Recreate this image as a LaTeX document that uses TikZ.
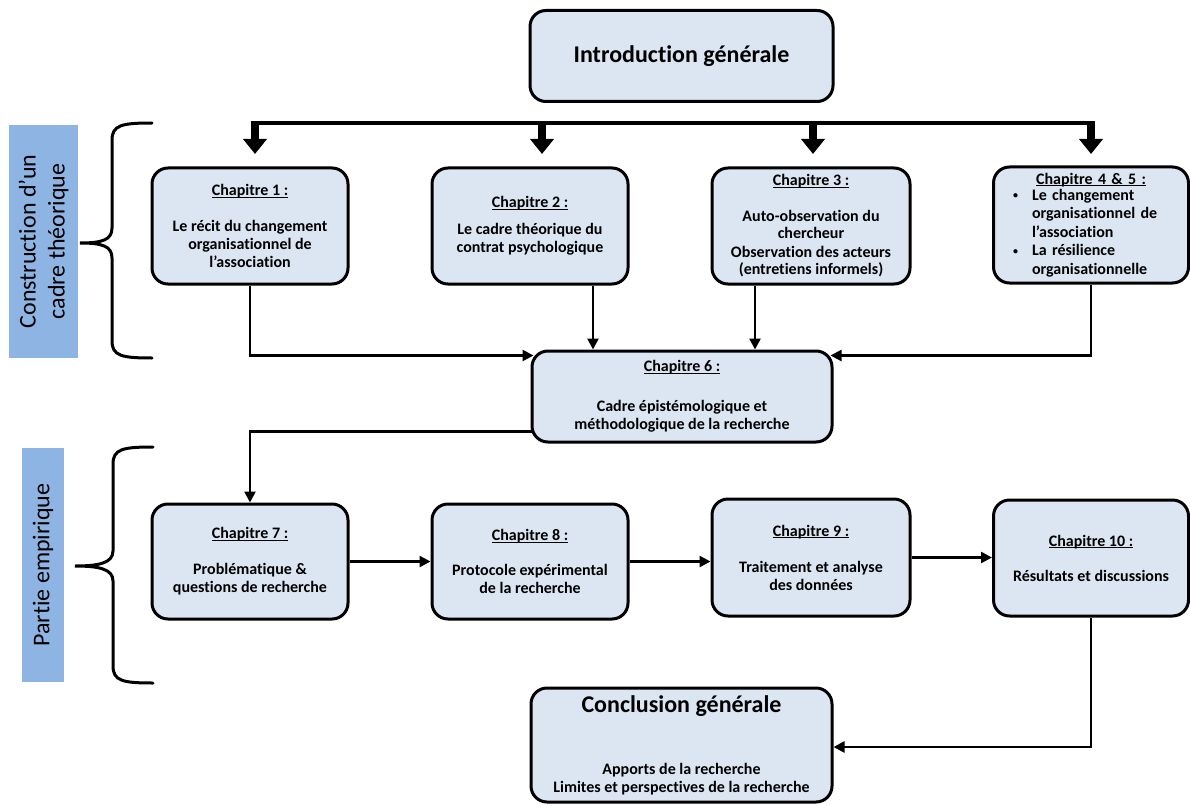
\documentclass[tikz,border=0pt]{standalone}
\usepackage{fontspec}
\setmainfont{Carlito}[Ligatures={NoCommon,NoRare}]
\usetikzlibrary{arrows.meta}
\definecolor{boxfill}{RGB}{220,230,242}
\definecolor{tagfill}{RGB}{141,180,226}
% chapter heading, underlined close to the baseline
\newcommand\chap[1]{\setbox0\hbox{#1}\rlap{\rule[-2.2pt]{\wd0}{1pt}}\box0}
\newcommand\bul{\makebox[19pt][l]{\raisebox{1.5pt}{\fontsize{10}{10}\selectfont\textbullet}}}
\begin{document}
\begin{tikzpicture}[x=1pt,y=-1pt,
  box/.style={draw=black, line width=3pt, rounded corners=16pt, fill=boxfill,
    align=center, inner sep=0pt, font=\bfseries\fontsize{16}{18}\selectfont},
  conn/.style={line width=2.5pt, -{Triangle[length=11pt,width=11pt]}},
  bigarrow/.style={line width=8pt, -{Triangle[length=15pt,width=23pt]}},
  tag/.style={fill=tagfill, rotate=90, align=center, inner sep=0pt,
    font=\fontsize{24}{29}\selectfont},
  brace/.style={line width=3pt, line cap=round}]

\path[use as bounding box, fill=white] (0,0) rectangle (1190,805);

% side labels
\node[tag, minimum width=233pt, minimum height=69pt] (tagA) at (43.5,241.5)
  {Construction d’un\\cadre théorique};
\node[tag, minimum width=234pt, minimum height=42pt] (tagB) at (43,565)
  {Partie empirique};

% braces
\draw[brace] (152,123) .. controls (122,123) and (112,125) .. (112,140)
  -- (112,228) .. controls (112,240) and (102,243) .. (80,243)
  .. controls (102,243) and (112,246) .. (112,258)
  -- (112,341) .. controls (112,356) and (122,358) .. (152,358);
\draw[brace] (153,447) .. controls (123,447) and (113,449) .. (113,464)
  -- (113,551) .. controls (113,563) and (99,566) .. (75,566)
  .. controls (99,566) and (113,569) .. (113,581)
  -- (113,666) .. controls (113,681) and (123,683) .. (153,683);

% boxes
\node[box, minimum width=303pt, minimum height=91pt] (intro) at (681.5,56)
  {\bfseries\fontsize{24}{29}\selectfont Introduction générale};

\node[box, minimum width=196pt, minimum height=116pt] (ch1) at (250,226)
  {\chap{Chapitre 1 :}\\[18pt]Le récit du changement\\organisationnel de\\l’association};
\node[box, minimum width=196pt, minimum height=116pt] (ch2) at (530,226)
  {\chap{Chapitre 2 :}\\[9pt]Le cadre théorique du\\contrat psychologique};
\node[box, minimum width=198pt, minimum height=116pt] (ch3) at (811,226)
  {\chap{Chapitre 3 :}\\[18pt]Auto-observation du\\[-1pt]chercheur\\[1pt]Observation des acteurs\\[-1pt](entretiens informels)};
\node[box, minimum width=195pt, minimum height=116pt, text width=180pt, align=left] (ch45) at (1091,225)
  {\makebox[180pt]{\chap{Chapitre 4 \& 5 :}}\\[-2pt]
   \hspace*{12pt}\bul Le changement\\[0.5pt]
   \hspace*{31pt}organisationnel de\\[0.5pt]
   \hspace*{31pt}l’association\\[0.5pt]
   \hspace*{12pt}\bul La résilience\\[0.5pt]
   \hspace*{31pt}organisationnelle};

\node[box, minimum width=300pt, minimum height=91pt] (ch6) at (682,396.5)
  {\chap{Chapitre 6 :}\\[22pt]Cadre épistémologique et\\méthodologique de la recherche};

\node[box, minimum width=196pt, minimum height=115pt] (ch7) at (250,561.5)
  {\chap{Chapitre 7 :}\\[18pt]Problématique \&\\questions de recherche};
\node[box, minimum width=196pt, minimum height=115pt] (ch8) at (530,561.5)
  {\chap{Chapitre 8 :}\\[17pt]Protocole expérimental\\de la recherche};
\node[box, minimum width=198pt, minimum height=117pt] (ch9) at (811,557.5)
  {\chap{Chapitre 9 :}\\[18pt]Traitement et analyse\\des données};
\node[box, minimum width=195pt, minimum height=116pt] (ch10) at (1091,558)
  {\chap{Chapitre 10 :}\\[17pt]Résultats et discussions};

\node[box, minimum width=301pt, minimum height=114pt] (concl) at (681.5,745)
  {{\bfseries\fontsize{24}{29}\selectfont Conclusion générale}\\[44pt]Apports de la recherche\\Limites et perspectives de la recherche};

% distribution bar under the introduction
\coordinate (b1) at (255,123);
\coordinate (b2) at (542,123);
\coordinate (b3) at (813,123);
\coordinate (b4) at (1091,123);
\draw[line width=4pt] (251,123) -- (1095,123);
\draw[bigarrow] (b1) -- (b1 |- 0,154);
\draw[bigarrow] (b2) -- (b2 |- 0,154);
\draw[bigarrow] (b3) -- (b3 |- 0,154);
\draw[bigarrow] (b4) -- (b4 |- 0,154);

% theoretical chapters feed chapter 6
\draw[conn] (ch1.south) |- ([xshift=3pt,yshift=-6pt]ch6.north west);
\draw[conn] ([xshift=63pt]ch2.south) -- ([xshift=63pt]ch2.south |- ch6.north);
\draw[conn] ([xshift=-56pt]ch3.south) -- ([xshift=-56pt]ch3.south |- ch6.north);
\draw[conn] (ch45.south) |- ([xshift=-3pt,yshift=-6pt]ch6.north east);

% empirical sequence
\draw[conn] ([xshift=1pt,yshift=12pt]ch6.south west) -| (ch7.north);
\draw[conn] (ch7.east) -- (ch8.west);
\draw[conn] (ch8.east) -- (ch8.east -| ch9.west);
\draw[conn] (ch9.east) -- (ch9.east -| ch10.west);
\draw[conn] (ch10.south) |- ([yshift=-2pt]concl.east);
\end{tikzpicture}
\end{document}
